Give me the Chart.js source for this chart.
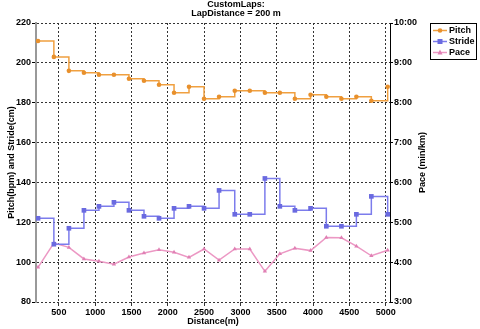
<!DOCTYPE html>
<html>
<head>
<meta charset="utf-8">
<title>CustomLaps</title>
<script src="https://cdn.jsdelivr.net/npm/chart.js@4/dist/chart.umd.min.js"></script>
<style>
  body { margin: 0; background: #fff; }
  #wrap { width: 480px; height: 329px; }
</style>
</head>
<body>
<div id="wrap"><canvas id="myChart" width="480" height="329"></canvas></div>
<script>
// lap end distances (m)
const distances = [213, 431, 638, 845, 1052, 1258, 1465, 1672, 1879, 2086, 2292, 2499,
  2706, 2922, 3129, 3337, 3543, 3750, 3966, 4183, 4391, 4597, 4803, 5028];
// pitch (bpm)
const pitch = [211, 203, 196, 195, 194, 194, 192, 191, 189, 185, 188, 182,
  183, 186, 186, 185, 185, 182, 184, 183, 182, 183, 181, 188];
// stride (cm)
const stride = [122, 109, 117, 126, 128, 130, 126, 123, 122, 127, 128, 127,
  136, 124, 124, 142, 128, 126, 127, 118, 118, 124, 133, 124];
// pace (min/km, decimal minutes)
const pace = [3.87, 4.48, 4.37, 4.08, 4.02, 3.95, 4.13, 4.23, 4.31, 4.25, 4.12, 4.33,
  4.05, 4.33, 4.33, 3.77, 4.21, 4.35, 4.29, 4.62, 4.61, 4.40, 4.16, 4.30];

const xTicks = [500, 1000, 1500, 2000, 2500, 3000, 3500, 4000, 4500, 5000];
const titleLines = ["CustomLaps:", "LapDistance = 200 m"];
const seriesNames = ["Pitch", "Stride", "Pace"];

const FONT = "'Liberation Sans', Arial, sans-serif";
const colors = {
  pitch: { line: "#F0A040", point: "#E8902C" },
  stride: { line: "#7C7CEC", point: "#6A6AE0" },
  pace: { line: "#EC98C4", point: "#E080B4" },
};

function toPoints(values) {
  return values.map((v, i) => ({ x: distances[i], y: v }));
}

function fmtPace(v) {
  return Math.round(v) + ":00";
}

// title, right axis title and boxed legend drawn by hand
const decorations = {
  id: "decorations",
  afterDraw(chart) {
    const ctx = chart.ctx;
    const area = chart.chartArea;
    ctx.save();
    ctx.fillStyle = "#000";
    ctx.font = "bold 9px " + FONT;
    ctx.textAlign = "center";
    ctx.textBaseline = "middle";
    ctx.fillText(titleLines[0], 236, 5);
    ctx.fillText(titleLines[1], 236, 14);

    // right axis title, reading bottom to top
    ctx.save();
    ctx.translate(423, (area.top + area.bottom) / 2);
    ctx.rotate(-Math.PI / 2);
    ctx.fillText("Pace (min/km)", 0, 0);
    ctx.restore();

    // legend
    const bx = 430, by = 23, bw = 46, bh = 36;
    ctx.strokeStyle = "#000";
    ctx.lineWidth = 1;
    ctx.strokeRect(bx + 0.5, by + 0.5, bw, bh);
    ctx.textAlign = "left";
    chart.data.datasets.forEach((ds, i) => {
      const y = by + 7.5 + i * 11;
      ctx.strokeStyle = ds.borderColor;
      ctx.lineWidth = 1.5;
      ctx.beginPath();
      ctx.moveTo(bx + 3, y);
      ctx.lineTo(bx + 17, y);
      ctx.stroke();
      ctx.fillStyle = ds.pointBackgroundColor;
      if (ds.pointStyle === "rect") {
        ctx.fillRect(bx + 7.5, y - 2.5, 5, 5);
      } else if (ds.pointStyle === "triangle") {
        ctx.beginPath();
        ctx.moveTo(bx + 10, y - 3);
        ctx.lineTo(bx + 12.5, y + 2);
        ctx.lineTo(bx + 7.5, y + 2);
        ctx.closePath();
        ctx.fill();
      } else {
        ctx.beginPath();
        ctx.arc(bx + 10, y, 2.3, 0, Math.PI * 2);
        ctx.fill();
      }
      ctx.fillStyle = "#000";
      ctx.fillText(seriesNames[i], bx + 19, y);
    });
    ctx.restore();
  },
};

const gridColor = "#333";

new Chart(document.getElementById("myChart"), {
  type: "line",
  data: {
    datasets: [
      {
        label: seriesNames[0],
        data: toPoints(pitch),
        yAxisID: "y",
        stepped: "before",
        borderColor: colors.pitch.line,
        borderWidth: 1.5,
        pointStyle: "circle",
        pointRadius: 2.3,
        pointBackgroundColor: colors.pitch.point,
        pointBorderWidth: 0,
      },
      {
        label: seriesNames[1],
        data: toPoints(stride),
        yAxisID: "y",
        stepped: "before",
        borderColor: colors.stride.line,
        borderWidth: 1.5,
        pointStyle: "rect",
        pointRadius: 3.3,
        pointBackgroundColor: colors.stride.point,
        pointBorderWidth: 0,
      },
      {
        label: seriesNames[2],
        data: toPoints(pace),
        yAxisID: "y1",
        borderColor: colors.pace.line,
        borderWidth: 1.5,
        pointStyle: "triangle",
        pointRadius: 2.5,
        pointBackgroundColor: colors.pace.point,
        pointBorderWidth: 0,
      },
    ],
  },
  options: {
    responsive: false,
    animation: false,
    layout: { padding: { top: 23, right: 52, left: 0, bottom: 0 } },
    plugins: {
      legend: { display: false },
      title: { display: false },
      tooltip: { enabled: false },
    },
    scales: {
      x: {
        type: "linear",
        min: 185,
        max: 5060,
        afterBuildTicks: (scale) => {
          scale.ticks = xTicks.map((v) => ({ value: v }));
        },
        afterFit: (scale) => {
          scale.height = 27;
        },
        grid: { color: gridColor, lineWidth: 1, tickLength: 4, tickColor: gridColor },
        border: { display: false, dash: [2, 2] },
        ticks: {
          color: "#000",
          padding: 1,
          maxRotation: 0,
          callback: (v) => String(v),
          font: { family: FONT, size: 9, weight: "bold" },
        },
        title: {
          display: true,
          text: "Distance(m)",
          color: "#000",
          padding: { top: 0, bottom: 2 },
          font: { family: FONT, size: 9, weight: "bold" },
        },
      },
      y: {
        position: "left",
        min: 80,
        max: 220,
        afterFit: (scale) => {
          scale.width = 36;
        },
        ticks: {
          stepSize: 20,
          color: "#000",
          padding: 1,
          font: { family: FONT, size: 9, weight: "bold" },
        },
        grid: { color: gridColor, lineWidth: 1, tickLength: 4, tickColor: "#000", tickBorderDash: [] },
        border: { display: true, color: "#999", width: 2, dash: [2, 2] },
        title: {
          display: true,
          text: "Pitch(bpm) and Stride(cm)",
          color: "#000",
          padding: { top: 6, bottom: 0 },
          font: { family: FONT, size: 9, weight: "bold" },
        },
      },
      y1: {
        position: "right",
        min: 3,
        max: 10,
        afterFit: (scale) => {
          scale.width = 38;
        },
        ticks: {
          stepSize: 1,
          color: "#000",
          padding: 1,
          callback: (v) => fmtPace(v),
          font: { family: FONT, size: 9, weight: "bold" },
        },
        grid: { drawOnChartArea: false, tickLength: 3, tickColor: "#000" },
        border: { display: true, color: "#000", width: 1 },
      },
    },
  },
  plugins: [decorations],
});
</script>
</body>
</html>
